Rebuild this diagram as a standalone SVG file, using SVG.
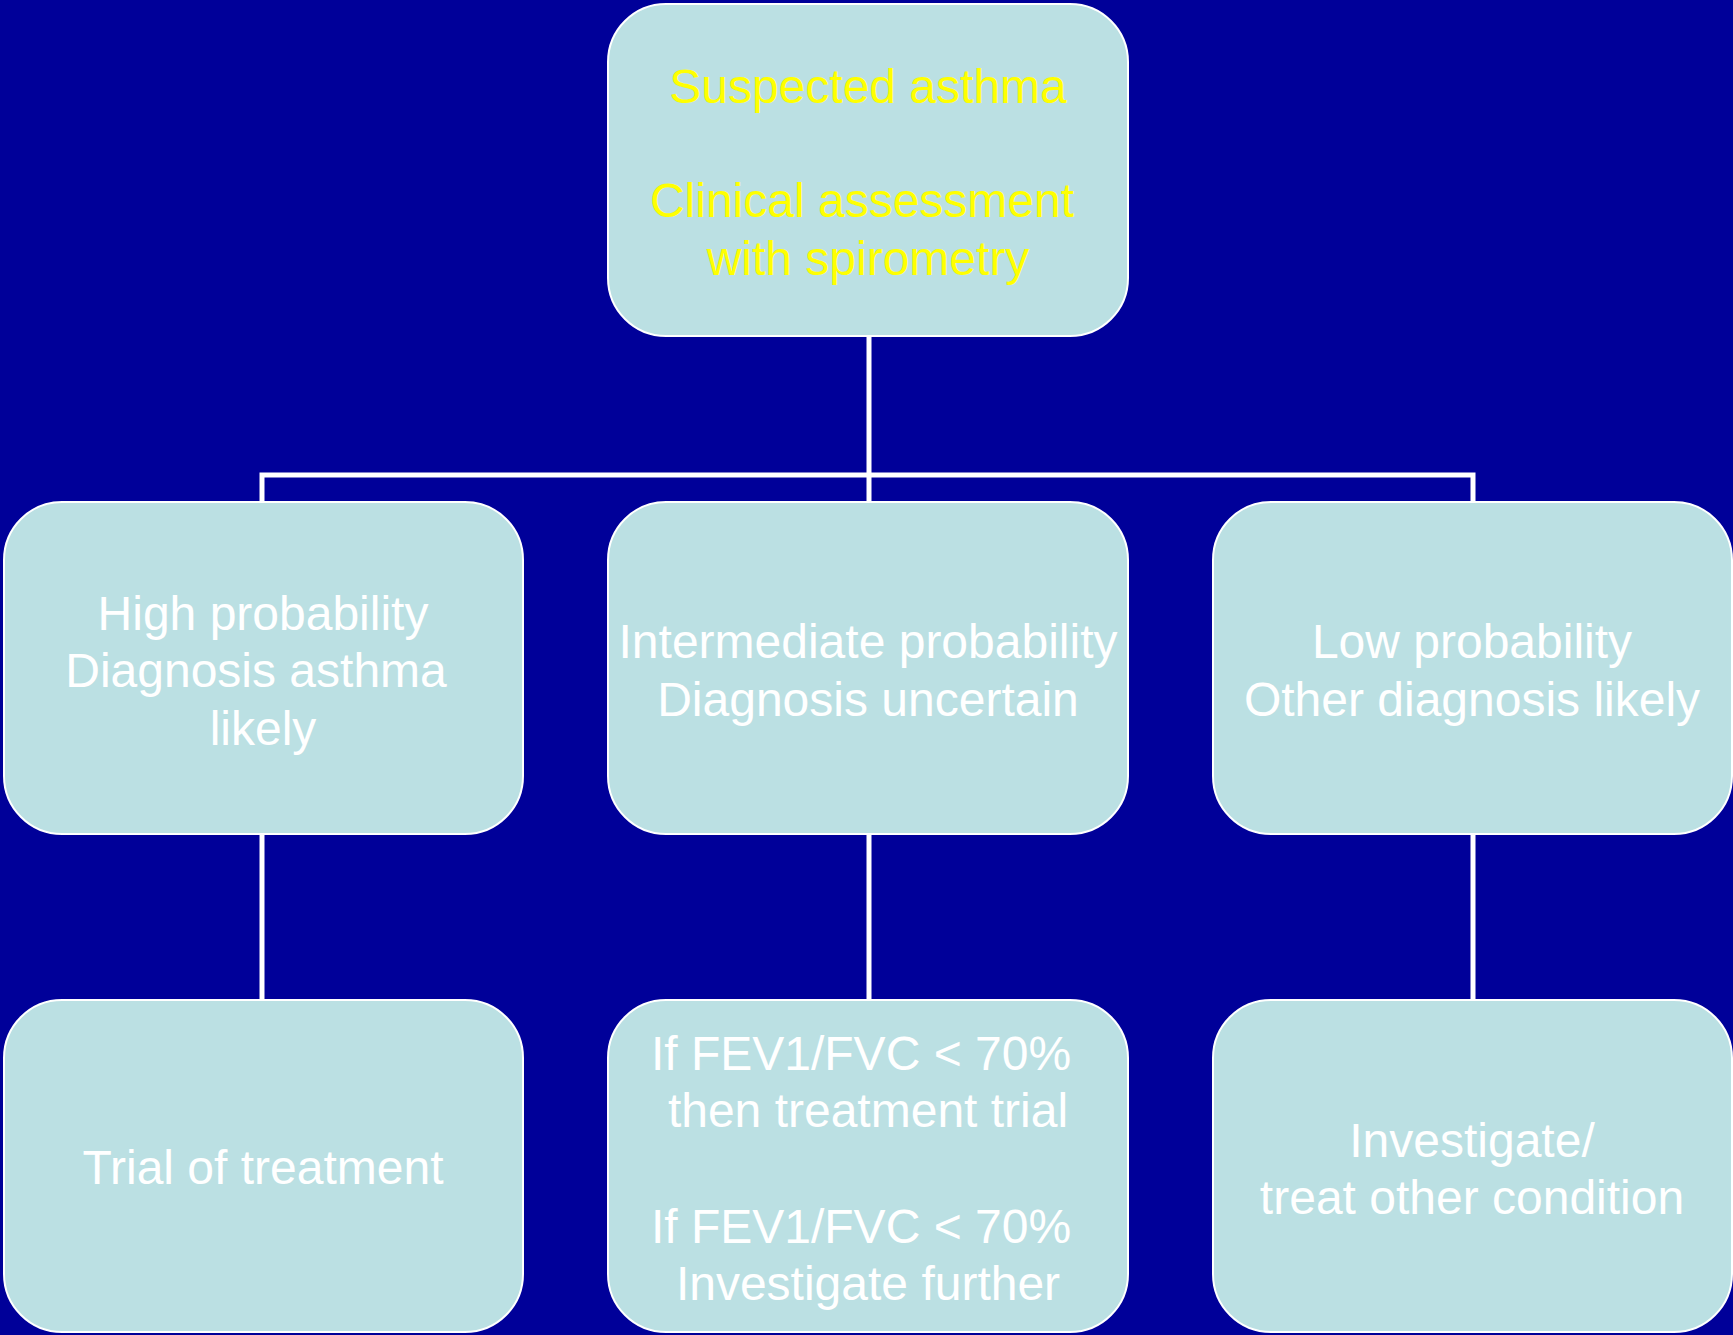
<svg xmlns="http://www.w3.org/2000/svg" width="1733" height="1335" viewBox="0 0 1733 1335">
<style>
.box{fill:#BBE0E3;stroke:#FFFFFF;stroke-width:2}
.t{font-family:"Liberation Sans",Arial,sans-serif;font-size:48px;text-anchor:middle;fill:#FFFFFF}
.y{fill:#FFFF00}
.c{stroke:#FFFFFF;stroke-width:5;fill:none}
</style>
<rect x="0" y="0" width="1733" height="1335" fill="#000099"/>
<g id="connectors">
<path class="c" d="M869 336 V475 M262 502 V475 H1473 V502 M869 475 V502"/>
<path class="c" d="M262 833 V1000 M869 833 V1000 M1473 833 V1000"/>
</g>
<g id="n-suspected">
<rect class="box" x="608" y="4" width="520" height="332" rx="58"/>
<text class="t y" x="868" y="103">Suspected asthma</text>
<text class="t y" x="862" y="217">Clinical assessment</text>
<text class="t y" x="868" y="275">with spirometry</text>
</g>
<g id="n-high">
<rect class="box" x="4" y="502" width="519" height="332" rx="58"/>
<text class="t" x="263" y="630">High probability</text>
<text class="t" x="256" y="687">Diagnosis asthma</text>
<text class="t" x="263" y="745">likely</text>
</g>
<g id="n-intermediate">
<rect class="box" x="608" y="502" width="520" height="332" rx="58"/>
<text class="t" x="868" y="658">Intermediate probability</text>
<text class="t" x="868" y="716">Diagnosis uncertain</text>
</g>
<g id="n-low">
<rect class="box" x="1213" y="502" width="519" height="332" rx="58"/>
<text class="t" x="1472" y="658">Low probability</text>
<text class="t" x="1472" y="716">Other diagnosis likely</text>
</g>
<g id="n-trial">
<rect class="box" x="4" y="1000" width="519" height="332" rx="58"/>
<text class="t" x="263" y="1184">Trial of treatment</text>
</g>
<g id="n-fev">
<rect class="box" x="608" y="1000" width="520" height="332" rx="58"/>
<text class="t" x="861" y="1070">If FEV1/FVC &lt; 70%</text>
<text class="t" x="868" y="1127">then treatment trial</text>
<text class="t" x="861" y="1243">If FEV1/FVC &lt; 70%</text>
<text class="t" x="868" y="1300">Investigate further</text>
</g>
<g id="n-other">
<rect class="box" x="1213" y="1000" width="519" height="332" rx="58"/>
<text class="t" x="1472" y="1157">Investigate/</text>
<text class="t" x="1472" y="1214">treat other condition</text>
</g>
</svg>
